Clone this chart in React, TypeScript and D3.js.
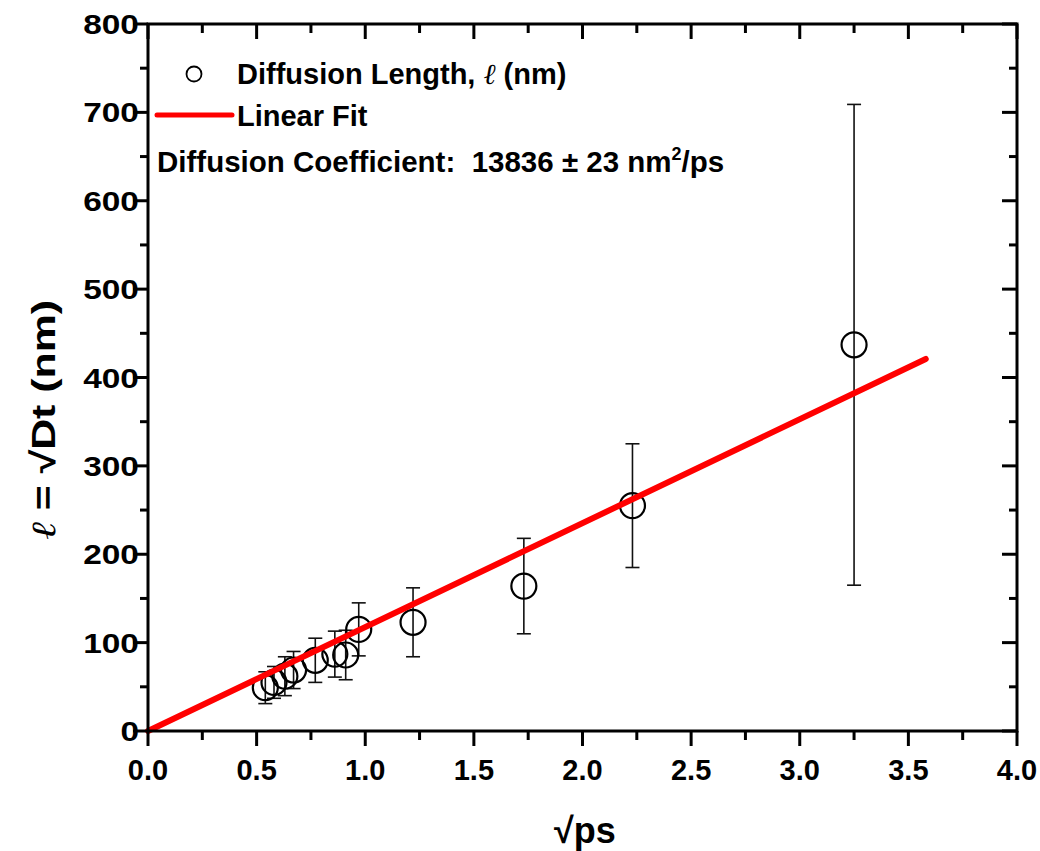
import React, { useEffect, useRef } from "react";
import * as d3 from "d3";

const xValues = [0.54, 0.58, 0.63, 0.67, 0.77, 0.86, 0.91, 0.97, 1.22, 1.73, 2.23, 3.25];
const yValues = [49, 55, 62, 69, 80, 87, 86, 115, 123, 164, 255, 437];
const yErrors = [18, 18, 22, 21, 25, 26, 28, 30, 39, 54, 70, 272];
const fitSlope = 117.6;
const fitRange = [0, 3.58];
const xTicks = [0, 0.5, 1, 1.5, 2, 2.5, 3, 3.5, 4];
const yTicks = [0, 100, 200, 300, 400, 500, 600, 700, 800];

const W = 1040, H = 851;
const L = 148, R = 1017, T = 24, B = 731;

export default function App() {
  const ref = useRef<SVGSVGElement>(null);
  useEffect(() => {
    const svg = d3.select(ref.current);
    svg.selectAll("*").remove();
    const x = d3.scaleLinear().domain([0, 4]).range([L, R]);
    const y = d3.scaleLinear().domain([0, 800]).range([B, T]);
    const font = "'Liberation Sans', Arial, sans-serif";

    // error bars
    const g = svg.append("g");
    xValues.forEach((xv, i) => {
      const cx = x(xv);
      const top = y(yValues[i] + yErrors[i]);
      const bot = y(yValues[i] - yErrors[i]);
      g.append("line").attr("x1", cx).attr("x2", cx).attr("y1", top).attr("y2", bot)
        .attr("stroke", "#111").attr("stroke-width", 1.6);
      [top, bot].forEach((yy) =>
        g.append("line").attr("x1", cx - 7).attr("x2", cx + 7).attr("y1", yy).attr("y2", yy)
          .attr("stroke", "#111").attr("stroke-width", 1.6));
    });
    // circles
    xValues.forEach((xv, i) => {
      g.append("circle").attr("cx", x(xv)).attr("cy", y(yValues[i])).attr("r", 12.5)
        .attr("fill", "none").attr("stroke", "#000").attr("stroke-width", 2.2);
    });
    // fit line
    const line = d3.line<number>().x((d) => x(d)).y((d) => y(fitSlope * d));
    svg.append("path").attr("d", line(fitRange)).attr("stroke", "#ff0000")
      .attr("stroke-width", 6).attr("fill", "none").attr("stroke-linecap", "round");

    // frame
    const ax = svg.append("g").attr("stroke", "#000").attr("stroke-width", 3);
    ax.append("rect").attr("x", L).attr("y", T).attr("width", R - L).attr("height", B - T)
      .attr("fill", "none");
    const xMinor = d3.range(0.25, 4, 0.5);
    const yMinor = d3.range(50, 800, 100);
    xTicks.forEach((t) => {
      ax.append("line").attr("x1", x(t)).attr("x2", x(t)).attr("y1", B).attr("y2", B + 15);
      ax.append("line").attr("x1", x(t)).attr("x2", x(t)).attr("y1", T).attr("y2", T + 15);
    });
    xMinor.forEach((t) => {
      ax.append("line").attr("x1", x(t)).attr("x2", x(t)).attr("y1", B).attr("y2", B + 9);
      ax.append("line").attr("x1", x(t)).attr("x2", x(t)).attr("y1", T).attr("y2", T + 9);
    });
    yTicks.forEach((t) => {
      ax.append("line").attr("x1", L - 15).attr("x2", L).attr("y1", y(t)).attr("y2", y(t));
      ax.append("line").attr("x1", R - 15).attr("x2", R).attr("y1", y(t)).attr("y2", y(t));
    });
    yMinor.forEach((t) => {
      ax.append("line").attr("x1", L - 8).attr("x2", L).attr("y1", y(t)).attr("y2", y(t));
      ax.append("line").attr("x1", R - 8).attr("x2", R).attr("y1", y(t)).attr("y2", y(t));
    });

    // tick labels
    xTicks.forEach((t) => {
      svg.append("text").attr("x", x(t)).attr("y", 780).attr("text-anchor", "middle")
        .attr("font-family", font).attr("font-weight", "bold").attr("font-size", 29)
        .text(d3.format(".1f")(t));
    });
    yTicks.forEach((t) => {
      const s = String(t);
      svg.append("text").attr("x", 139).attr("y", y(t) + 10).attr("text-anchor", "end")
        .attr("font-family", font).attr("font-weight", "bold").attr("font-size", 27)
        .attr("textLength", s.length * 18.6).attr("lengthAdjust", "spacingAndGlyphs")
        .text(s);
    });

    // axis titles
    svg.append("text").attr("x", 585).attr("y", 843).attr("text-anchor", "middle")
      .attr("font-family", font).attr("font-weight", "bold").attr("font-size", 36).text("√ps");
    const yt = svg.append("text").attr("transform", "translate(55,420) rotate(-90)")
      .attr("text-anchor", "middle").attr("font-family", font).attr("font-weight", "bold")
      .attr("font-size", 34).attr("textLength", 240).attr("lengthAdjust", "spacingAndGlyphs");
    yt.append("tspan").attr("font-family", "'Liberation Serif', serif").attr("font-style", "italic").attr("font-weight", "normal").text("ℓ");
    yt.append("tspan").text(" = √Dt (nm)");

    // legend
    svg.append("circle").attr("cx", 194).attr("cy", 74).attr("r", 7.5).attr("fill", "none")
      .attr("stroke", "#000").attr("stroke-width", 1.8);
    const l1 = svg.append("text").attr("x", 237).attr("y", 84).attr("font-family", font)
      .attr("font-weight", "bold").attr("font-size", 29);
    l1.append("tspan").text("Diffusion Length, ");
    l1.append("tspan").attr("font-family", "'Liberation Serif', serif").attr("font-style", "italic")
      .attr("font-weight", "normal").text("ℓ");
    l1.append("tspan").text(" (nm)");
    svg.append("line").attr("x1", 157).attr("x2", 232).attr("y1", 115).attr("y2", 115)
      .attr("stroke", "#ff0000").attr("stroke-width", 5).attr("stroke-linecap", "round");
    svg.append("text").attr("x", 237).attr("y", 126).attr("font-family", font)
      .attr("font-weight", "bold").attr("font-size", 29).text("Linear Fit");
    const dc = svg.append("text").attr("x", 157).attr("y", 172).attr("font-family", font)
      .attr("font-weight", "bold").attr("font-size", 29.5).attr("xml:space", "preserve");
    dc.append("tspan").text("Diffusion Coefficient:  13836 ± 23 nm");
    dc.append("tspan").attr("font-size", 18).attr("dy", -12).text("2");
    dc.append("tspan").attr("dy", 12).text("/ps");
  }, []);
  return (
    <svg ref={ref} width={W} height={H}
      style={{ position: "absolute", left: 0, top: 0, background: "#fff" }} />
  );
}
